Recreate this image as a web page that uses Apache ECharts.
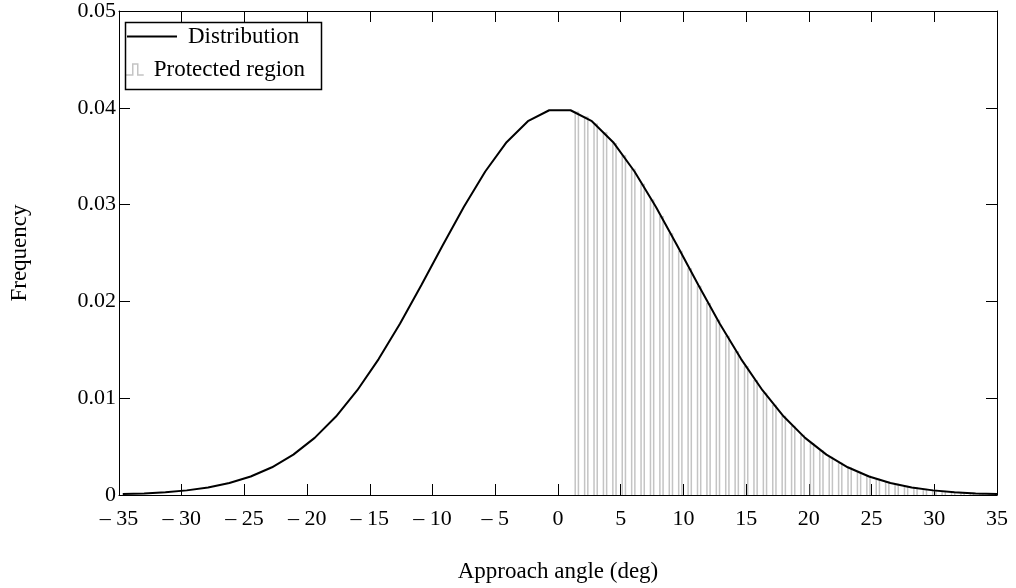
<!DOCTYPE html>
<html>
<head>
<meta charset="utf-8">
<script src="https://cdn.jsdelivr.net/npm/echarts@6/dist/echarts.min.js"></script>
<style>
html,body{margin:0;padding:0;background:#fff;}
#chart{width:1016px;height:588px;}
</style>
</head>
<body>
<div id="chart"></div>
<script>
// Distribution curve
const distX = [-34.7,-33.0,-31.3,-29.6,-27.9,-26.2,-24.5,-22.8,-21.1,-19.4,-17.7,-16.0,-14.3,-12.6,-10.9,-9.2,-7.5,-5.8,-4.1,-2.4,-0.7,1.0,2.7,4.4,6.1,7.8,9.5,11.2,12.9,14.6,16.3,18.0,19.7,21.4,23.1,24.8,26.5,28.2,29.9,31.6,33.3,35.0];
const distY = [0.000092,0.000164,0.000284,0.000478,0.000781,0.001240,0.001912,0.002865,0.004172,0.005901,0.008109,0.010827,0.014043,0.017696,0.021663,0.025765,0.029769,0.033419,0.036446,0.038614,0.039746,0.039746,0.038614,0.036446,0.033419,0.029769,0.025765,0.021663,0.017696,0.014043,0.010827,0.008109,0.005901,0.004172,0.002865,0.001912,0.001240,0.000781,0.000478,0.000284,0.000164,0.000092];
// Protected region pulses
const protX = [1.5,2.25,3.0,3.75,4.5,5.25,6.0,6.75,7.5,8.25,9.0,9.75,10.5,11.25,12.0,12.75,13.5,14.25,15.0,15.75,16.5,17.25,18.0,18.75,19.5,20.25,21.0,21.75,22.5,23.25,24.0,24.75,25.5,26.25,27.0,27.75,28.5,29.25,30.0,30.75,31.5,32.25,33.0,33.75,34.5];
const protY = [0.039528,0.039020,0.038302,0.037387,0.036289,0.035025,0.033617,0.032083,0.030448,0.028734,0.026965,0.025162,0.023348,0.021543,0.019767,0.018035,0.016364,0.014762,0.013244,0.011814,0.010481,0.009245,0.008109,0.007073,0.006136,0.005292,0.004538,0.003871,0.003283,0.002768,0.002321,0.001936,0.001605,0.001324,0.001086,0.000885,0.000717,0.000578,0.000464,0.000369,0.000293,0.000231,0.000181,0.000141,0.000109];
const xTicks = {min:-35, max:35, step:5};
const yTicks = {min:0, max:0.05, step:0.01};
const seriesNames = ['Distribution','Protected region'];
const axisNames = {x:'Approach angle (deg)', y:'Frequency'};

const FONT = 'Liberation Serif';
const GRAY = '#c4c4c4';
const chart = echarts.init(document.getElementById('chart'), null, {renderer:'canvas'});
const tickStyle = {show:true, inside:true, length:11, lineStyle:{color:'#000', width:1}};
const lineAx = {show:true, onZero:false, lineStyle:{color:'#000', width:1}};
function xFmt(v){ return v < 0 ? '\u2013 ' + Math.abs(v) : String(v); }
function yFmt(v){ return v === 0 ? '0' : (+v.toFixed(2)).toString(); }

chart.setOption({
  animation:false,
  backgroundColor:'#fff',
  grid:{left:110, right:19, top:8, bottom:86, containLabel:false},
  xAxis:[{
    type:'value', min:xTicks.min, max:xTicks.max, interval:xTicks.step,
    name:axisNames.x, nameLocation:'middle', nameGap:65,
    nameTextStyle:{fontFamily:FONT, fontSize:23, color:'#000'},
    axisLine:lineAx, axisTick:tickStyle, splitLine:{show:false},
    axisLabel:{fontFamily:FONT, fontSize:22, color:'#000', margin:13, formatter:xFmt}
  },{
    type:'value', position:'top', min:xTicks.min, max:xTicks.max, interval:xTicks.step,
    axisLine:lineAx, axisTick:tickStyle, axisLabel:{show:false}, splitLine:{show:false}
  }],
  yAxis:[{
    type:'value', min:yTicks.min, max:yTicks.max, interval:yTicks.step,
    name:axisNames.y, nameLocation:'middle', nameGap:88, nameRotate:90,
    nameTextStyle:{fontFamily:FONT, fontSize:23, color:'#000'},
    axisLine:lineAx, axisTick:tickStyle, splitLine:{show:false},
    axisLabel:{fontFamily:FONT, fontSize:22, color:'#000', margin:3, formatter:yFmt}
  },{
    type:'value', position:'right', min:yTicks.min, max:yTicks.max, interval:yTicks.step,
    axisLine:lineAx, axisTick:tickStyle, axisLabel:{show:false}, splitLine:{show:false}
  }],
  legend:[{
    data:[{name:seriesNames[0], icon:'rect', itemStyle:{color:'#000'}}],
    left:127, top:25, itemWidth:50, itemHeight:2, itemGap:0, padding:0,
    textStyle:{fontFamily:FONT, fontSize:23, color:'#000', padding:[0,0,0,6]}
  },{
    data:[{name:seriesNames[1], icon:'path://M0,11 L7,11 L7,0 L12,0 L12,11 L18,11',
           itemStyle:{color:'rgba(0,0,0,0)', borderColor:GRAY, borderWidth:1.5}}],
    left:125, top:58, itemWidth:18, itemHeight:11, itemGap:0, padding:0,
    textStyle:{fontFamily:FONT, fontSize:23, color:'#000', padding:[0,0,0,5]}
  }],
  graphic:[{type:'rect', left:123, top:20, shape:{width:196, height:67}, style:{fill:'none', stroke:'#000', lineWidth:1.5}, z:100}],
  series:[{
    name:seriesNames[1], type:'custom', z:2, clip:true,
    data:protX.map((x,i)=>[x, protY[i]]),
    encode:{x:0, y:1},
    itemStyle:{color:GRAY},
    renderItem:function(params, api){
      const top = api.coord([api.value(0), api.value(1)]);
      const base = api.coord([api.value(0), 0]);
      const h = 1.6;
      return {type:'polyline', shape:{points:[[top[0]-h, base[1]],[top[0]-h, top[1]],[top[0]+h, top[1]],[top[0]+h, base[1]]]},
              style:{fill:null, stroke:GRAY, lineWidth:1.5}};
    }
  },{
    name:seriesNames[0], type:'line', symbol:'none', z:3, clip:true,
    data:distX.map((x,i)=>[x, distY[i]]),
    lineStyle:{color:'#000', width:2}, itemStyle:{color:'#000'}
  }]
});
</script>
</body>
</html>
